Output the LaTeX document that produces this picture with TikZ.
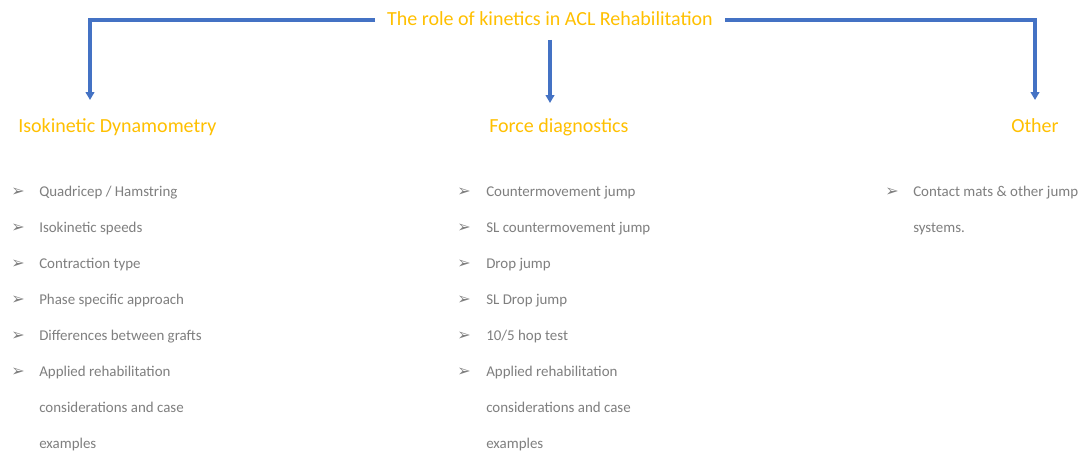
\documentclass[tikz,border=0pt]{standalone}
\usepackage{fontspec}
\setmainfont{Carlito}
\newfontfamily\symfont{DejaVu Sans}
\usetikzlibrary{arrows.meta}
\definecolor{gold}{HTML}{FFC000}
\definecolor{txtgray}{HTML}{7F7F7F}
\definecolor{linkblue}{HTML}{4472C4}
\begin{document}
\begin{tikzpicture}[x=0.75pt,y=-0.75pt,
  titletext/.style={text=gold,font=\fontsize{15}{17}\selectfont,inner sep=0pt},
  headtext/.style={text=gold,font=\fontsize{15}{17}\selectfont,inner sep=0pt,anchor=base west},
  itemtext/.style={text=txtgray,font=\fontsize{11.2}{13}\selectfont,inner sep=0pt,anchor=base west},
  bullet/.style={text=txtgray,font=\symfont\fontsize{12}{13}\selectfont,inner sep=0pt,anchor=base west},
  arr/.style={draw=linkblue,line width=2.3pt,-{Triangle[length=6pt,width=6.5pt]}}
]
\useasboundingbox (0,0) rectangle (1080,453);
\fill[white] (0,0) rectangle (1080,453);

\node[titletext] (title) at (550,19) {The role of kinetics in ACL Rehabilitation};

\coordinate (lstart) at (375,20);
\coordinate (rstart) at (725,20);
\coordinate (mstart) at (550,40);
\coordinate (ltip) at (90,100);
\coordinate (mtip) at (550,103);
\coordinate (rtip) at (1035,100);

\draw[arr] (lstart) -| (ltip);
\draw[arr] (mstart) -- (mtip);
\draw[arr] (rstart) -| (rtip);

\node[headtext] (h1) at (18,132) {Isokinetic Dynamometry};
\node[headtext] (h2) at (489,132) {Force diagnostics};
\node[headtext] (h3) at (1011,132) {Other};

% column 1
\foreach \y/\t [count=\i] in {196/{Quadricep / Hamstring},232/{Isokinetic speeds},268/{Contraction type},304/{Phase specific approach},340/{Differences between grafts},376/{Applied rehabilitation}}{
  \node[bullet] (ba\i) at (11,\y) {➢};
  \node[itemtext] (ia\i) at (39,\y) {\t};
}
\node[itemtext] (ia7) at (39,412) {considerations and case};
\node[itemtext] (ia8) at (39,448) {examples};

% column 2
\foreach \y/\t [count=\i] in {196/{Countermovement jump},232/{SL countermovement jump},268/{Drop jump},304/{SL Drop jump},340/{10/5 hop test},376/{Applied rehabilitation}}{
  \node[bullet] (bb\i) at (457,\y) {➢};
  \node[itemtext] (ib\i) at (486,\y) {\t};
}
\node[itemtext] (ib7) at (486,412) {considerations and case};
\node[itemtext] (ib8) at (486,448) {examples};

% column 3
\node[bullet] (bc1) at (885,196) {➢};
\node[itemtext] (ic1) at (913,196) {Contact mats \& other jump};
\node[itemtext] (ic2) at (913,232) {systems.};
\end{tikzpicture}
\end{document}
